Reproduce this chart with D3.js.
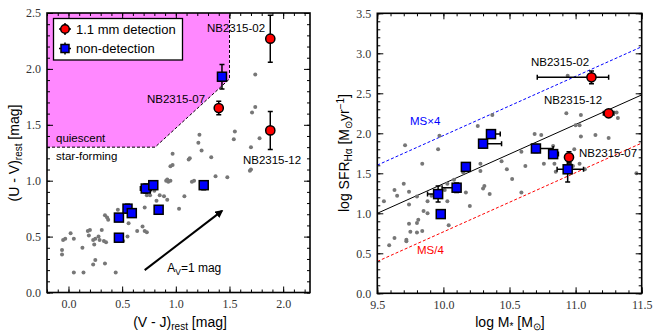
<!DOCTYPE html>
<html><head><meta charset="utf-8">
<script src="https://cdn.jsdelivr.net/npm/d3@7"></script>
<style>body{margin:0;background:#fff}</style>
</head><body>
<script>
// ---- left panel data: UVJ diagram
const grayVJ = [-0.06,-0.06,-0.05,-0.03,0.02,0.05,0.05,0.13,0.14,0.18,0.19,0.20,0.23,0.24,0.25,0.28,0.29,0.23,0.25,0.31,0.33,0.35,0.34,0.34,0.36,0.37,0.44,0.46,0.51,0.55,0.56,0.60,0.64,0.69,0.71,0.73,0.71,0.73,0.76,0.76,0.80,0.82,0.85,0.89,0.92,0.93,0.95,0.97,1.03,1.08,1.15,1.17,1.37,1.48,1.70,1.13,0.97,0.95,1.12,1.22,1.21,1.24,1.33,1.55,1.54,1.78,1.70,1.69,1.74,1.71,1.74,0.91,0.92];
const grayUV = [0.38,0.34,0.47,0.48,0.53,0.48,0.18,0.40,0.18,0.55,0.51,0.56,0.47,0.43,0.48,0.50,0.47,0.25,0.29,0.56,0.46,0.45,0.26,0.69,0.67,0.65,0.18,0.74,0.46,0.50,0.62,0.71,0.55,0.59,0.55,0.54,0.76,0.87,0.87,0.91,0.91,0.82,0.87,0.86,0.83,0.99,1.00,1.14,0.75,0.86,0.99,1.00,1.04,1.03,1.10,1.20,1.24,1.13,1.19,1.41,1.34,1.27,1.21,1.44,1.37,1.38,1.30,1.09,1.66,1.61,1.95,1.00,1.01];

const detVJ = [1.88, 1.40, 1.88];
const detUV = [2.27, 1.65, 1.45];
const detVJerr = [0.02, 0.02, 0.02];
const detUVerr = [0.21, 0.06, 0.17];
const detNames = ["NB2315-02", "NB2315-07", "NB2315-12"];

const ndVJ = [0.47, 0.55, 0.59, 0.84, 0.47, 0.72, 0.79, 1.26, 1.43];
const ndUV = [0.67, 0.75, 0.71, 0.74, 0.49, 0.93, 0.96, 0.96, 1.93];
const ndVJerr = [0.02, 0.03, 0.02, 0.02, 0.02, 0.05, 0.02, 0.03, 0.03];
const ndUVerr = [0.03, 0.04, 0.03, 0.02, 0.03, 0.04, 0.03, 0.04, 0.11];

const quiesVJ = [-0.2, 0.807, 1.5, 1.5];
const quiesUV = [1.3, 1.3, 1.91, 2.5];
const avVJ = [0.71, 1.43];
const avUV = [0.20, 0.73];

// ---- right panel data: SFR - mass
const grayM = [9.71,9.84,9.96,9.97,10.26,10.37,10.69,10.74,10.94,10.93,11.04,11.00,11.03,11.04,11.15,11.25,11.31,11.32,10.59,10.44,10.83,9.55,9.59,9.63,9.63,9.65,9.70,9.72,9.72,9.74,9.74,9.74,9.75,9.80,9.80,9.81,9.80,9.84,9.85,9.88,9.88,9.91,10.01,10.03,10.03,10.04,10.08,10.15,10.17,10.20,10.28,10.28,10.30,10.31,10.35,10.48,10.52,10.59,10.62,10.76,10.84,10.85,11.03,11.07,11.46,10.96,10.98,10.99];
const graySFR = [1.85,1.62,1.80,1.97,2.09,2.23,1.99,1.98,2.72,2.25,2.23,2.10,2.10,1.96,1.98,1.94,2.26,2.19,1.77,1.65,1.84,1.15,0.60,1.29,0.69,1.22,1.37,0.65,0.67,1.27,1.11,0.87,0.77,1.21,0.76,0.92,0.88,0.78,1.03,1.00,1.15,1.22,1.29,1.37,1.15,0.85,1.42,1.51,1.26,1.09,1.62,1.53,1.31,1.34,1.24,1.55,1.43,1.26,1.59,1.62,1.62,1.52,1.62,1.55,1.50,1.62,1.59,1.80];

const detM = [11.12, 11.25, 10.95];
const detSFR = [2.70, 2.25, 1.70];
const detMlo = [0.41, 0.04, 0.02];
const detMhi = [0.13, 0.04, 0.02];
const detSFRerr = [0.08, 0.04, 0.07];
const detNamesR = ["NB2315-02", "NB2315-12", "NB2315-07"];

const ndM = [10.17, 9.96, 10.10, 9.98, 10.30, 10.36, 10.70, 10.83, 10.94];
const ndSFR = [1.58, 1.24, 1.32, 0.99, 1.87, 1.99, 1.81, 1.74, 1.55];
const ndMlo = [0.02, 0.08, 0.11, 0.02, 0.02, 0.03, 0.02, 0.02, 0.08];
const ndMhi = [0.02, 0.03, 0.02, 0.02, 0.14, 0.07, 0.13, 0.04, 0.12];
const ndSFRerr = [0.04, 0.10, 0.06, 0.05, 0.05, 0.05, 0.05, 0.05, 0.16];

const msM = [9.5, 11.5];
const msSFR = [1.0, 2.48];
const msOffset = Math.log10(4);

const svg = d3.select("body").append("svg")
  .attr("width", 662).attr("height", 331)
  .style("font-family", "Liberation Sans, Arial, sans-serif");

const fmt = d3.format(".1f");
const stepTicks = (a, b, s) => d3.range(Math.round((b - a) / s) + 1).map(i => +(a + i * s).toFixed(2));

function frame(id, x, y, xMajor, xMinor, yMajor, yMinor) {
  const [x0, x1] = x.range(), [y0, y1] = y.range();
  const g = svg.append("g");
  const serif = sel => sel.selectAll("text")
    .style("font-family", "Liberation Serif, Times New Roman, serif")
    .style("font-size", "12px").attr("fill", "#333");
  const noDomain = sel => sel.select(".domain").remove();
  g.append("g").attr("transform", `translate(0,${y0})`)
    .call(d3.axisBottom(x).tickValues(xMajor).tickSize(-6).tickPadding(7).tickFormat(fmt))
    .call(noDomain).call(serif);
  g.append("g").attr("transform", `translate(0,${y0})`)
    .call(d3.axisBottom(x).tickValues(xMinor).tickSize(-3).tickFormat("")).call(noDomain);
  g.append("g").attr("transform", `translate(0,${y1})`)
    .call(d3.axisTop(x).tickValues(xMajor).tickSize(-6).tickFormat("")).call(noDomain);
  g.append("g").attr("transform", `translate(0,${y1})`)
    .call(d3.axisTop(x).tickValues(xMinor).tickSize(-3).tickFormat("")).call(noDomain);
  g.append("g").attr("transform", `translate(${x0},0)`)
    .call(d3.axisLeft(y).tickValues(yMajor).tickSize(-6).tickPadding(6).tickFormat(fmt))
    .call(noDomain).call(serif);
  g.append("g").attr("transform", `translate(${x0},0)`)
    .call(d3.axisLeft(y).tickValues(yMinor).tickSize(-3).tickFormat("")).call(noDomain);
  g.append("g").attr("transform", `translate(${x1},0)`)
    .call(d3.axisRight(y).tickValues(yMajor).tickSize(-6).tickFormat("")).call(noDomain);
  g.append("g").attr("transform", `translate(${x1},0)`)
    .call(d3.axisRight(y).tickValues(yMinor).tickSize(-3).tickFormat("")).call(noDomain);
  g.selectAll(".tick line").attr("stroke", "#000").attr("stroke-width", 1);
  g.append("rect").attr("x", x0).attr("y", y1).attr("width", x1 - x0).attr("height", y0 - y1)
    .attr("fill", "none").attr("stroke", "#000").attr("stroke-width", 1.6);
  svg.append("clipPath").attr("id", id).append("rect")
    .attr("x", x0).attr("y", y1).attr("width", x1 - x0).attr("height", y0 - y1);
}

function errBars(g, x, y, xs, ys, xlo, xhi, ylo, yhi) {
  xs.forEach((v, i) => {
    const cx = x(v), cy = y(ys[i]);
    const ya = y(ys[i] - ylo[i]), yb = y(ys[i] + yhi[i]);
    const xa = x(v - xlo[i]), xb = x(v + xhi[i]);
    const p = d3.path();
    p.moveTo(cx, ya); p.lineTo(cx, yb);
    p.moveTo(cx - 2.5, ya); p.lineTo(cx + 2.5, ya);
    p.moveTo(cx - 2.5, yb); p.lineTo(cx + 2.5, yb);
    p.moveTo(xa, cy); p.lineTo(xb, cy);
    p.moveTo(xa, cy - 2.5); p.lineTo(xa, cy + 2.5);
    p.moveTo(xb, cy - 2.5); p.lineTo(xb, cy + 2.5);
    g.append("path").attr("d", p.toString()).attr("stroke", "#000")
      .attr("stroke-width", 1.5).attr("fill", "none");
  });
}

function squares(g, x, y, xs, ys) {
  g.selectAll(null).data(xs).join("rect")
    .attr("x", (d) => x(d) - 4.5).attr("y", (d, i) => y(ys[i]) - 4.5)
    .attr("width", 9).attr("height", 9)
    .attr("fill", "#0000ff").attr("stroke", "#000").attr("stroke-width", 1.5);
}
function circles(g, x, y, xs, ys) {
  g.selectAll(null).data(xs).join("circle")
    .attr("cx", d => x(d)).attr("cy", (d, i) => y(ys[i])).attr("r", 4.6)
    .attr("fill", "#ff0000").attr("stroke", "#000").attr("stroke-width", 1.5);
}

// ================= LEFT PANEL =================
const xL = d3.scaleLinear().domain([-0.2, 2.25]).range([47, 310]);
const yL = d3.scaleLinear().domain([0, 2.5]).range([292.5, 13]);

const gL = svg.append("g").attr("clip-path", "url(#clipL)");
const quies = quiesVJ.map((v, i) => [v, quiesUV[i]]);
gL.append("path")
  .attr("d", d3.line().x(d => xL(d[0])).y(d => yL(d[1]))([[quiesVJ[0], 2.5], ...quies]) + "Z")
  .attr("fill", "#ff88ff");
gL.append("path")
  .attr("d", d3.line().x(d => xL(d[0])).y(d => yL(d[1]))(quies))
  .attr("fill", "none").attr("stroke", "#000").attr("stroke-width", 1).attr("stroke-dasharray", "3,2");

gL.selectAll(null).data(grayVJ).join("circle")
  .attr("cx", d => xL(d)).attr("cy", (d, i) => yL(grayUV[i])).attr("r", 2)
  .attr("fill", "#777");

// extinction arrow
svg.append("defs").append("marker").attr("id", "arrowhead")
  .attr("viewBox", "0 0 10 10").attr("refX", 8).attr("refY", 5)
  .attr("markerWidth", 4).attr("markerHeight", 4).attr("orient", "auto")
  .append("path").attr("d", "M0,0L10,5L0,10z").attr("fill", "#000");
gL.append("line")
  .attr("x1", xL(avVJ[0])).attr("y1", yL(avUV[0]))
  .attr("x2", xL(avVJ[1])).attr("y2", yL(avUV[1]))
  .attr("stroke", "#000").attr("stroke-width", 2).attr("marker-end", "url(#arrowhead)");
const avT = gL.append("text").attr("x", xL(0.92)).attr("y", yL(0.18))
  .attr("font-size", 12).text("A");
avT.append("tspan").attr("font-size", 8.5).attr("dy", 3).text("V");
avT.append("tspan").attr("dy", -3).text("=1 mag");

errBars(gL, xL, yL, ndVJ, ndUV, ndVJerr, ndVJerr, ndUVerr, ndUVerr);
errBars(gL, xL, yL, detVJ, detUV, detVJerr, detVJerr, detUVerr, detUVerr);
squares(gL, xL, yL, ndVJ, ndUV);
circles(gL, xL, yL, detVJ, detUV);

gL.append("text").attr("x", 56).attr("y", yL(1.3) - 5).attr("font-size", 11.5).text("quiescent");
gL.append("text").attr("x", 56).attr("y", yL(1.3) + 13).attr("font-size", 11.5).text("star-forming");

const labL = [[236, 32], [176, 103], [272, 164]];
detNames.forEach((n, i) => gL.append("text").attr("x", labL[i][0]).attr("y", labL[i][1])
  .attr("text-anchor", "middle").attr("font-size", 11.5).text(n));

// legend
const lg = svg.append("g");
lg.append("rect").attr("x", 53.5).attr("y", 18.5).attr("width", 129).attr("height", 41.5)
  .attr("fill", "#fff").attr("stroke", "#000").attr("stroke-width", 1.3);
[["1.1 mm detection", 29, "c"], ["non-detection", 48.5, "s"]].forEach(([t, yy, k]) => {
  const p = d3.path();
  p.moveTo(59, yy); p.lineTo(71, yy); p.moveTo(65, yy - 6); p.lineTo(65, yy + 6);
  lg.append("path").attr("d", p.toString()).attr("stroke", "#000").attr("stroke-width", 1.5);
  if (k === "c") lg.append("circle").attr("cx", 65).attr("cy", yy).attr("r", 4.3)
    .attr("fill", "#ff0000").attr("stroke", "#000").attr("stroke-width", 1.5);
  else lg.append("rect").attr("x", 61).attr("y", yy - 4).attr("width", 8).attr("height", 8)
    .attr("fill", "#0000ff").attr("stroke", "#000").attr("stroke-width", 1.5);
  lg.append("text").attr("x", 76).attr("y", yy + 4.5).attr("font-size", 13).text(t);
});

frame("clipL", xL, yL, stepTicks(0, 2, 0.5), stepTicks(-0.2, 2.2, 0.1),
  stepTicks(0, 2.5, 0.5), stepTicks(0, 2.5, 0.1));

const xlabL = svg.append("text").attr("x", 180).attr("y", 327).attr("text-anchor", "middle").attr("font-size", 14).text("(V - J)");
xlabL.append("tspan").attr("font-size", 10).attr("dy", 3).text("rest");
xlabL.append("tspan").attr("dy", -3).text(" [mag]");
const ylabL = svg.append("text").attr("transform", "translate(19,153) rotate(-90)")
  .attr("text-anchor", "middle").attr("font-size", 14).text("(U - V)");
ylabL.append("tspan").attr("font-size", 10).attr("dy", 3).text("rest");
ylabL.append("tspan").attr("dy", -3).text(" [mag]");

// ================= RIGHT PANEL =================
const xR = d3.scaleLinear().domain([9.5, 11.5]).range([377.3, 641.7]);
const yR = d3.scaleLinear().domain([0, 3.5]).range([293.3, 13.3]);
const gR = svg.append("g").attr("clip-path", "url(#clipR)");

const msLine = off => d3.line().x(d => xR(d)).y((d, i) => yR(msSFR[i] + off))(msM);
gR.append("path").attr("d", msLine(msOffset)).attr("fill", "none")
  .attr("stroke", "#0000ff").attr("stroke-width", 1).attr("stroke-dasharray", "3,2");
gR.append("path").attr("d", msLine(-msOffset)).attr("fill", "none")
  .attr("stroke", "#ff0000").attr("stroke-width", 1).attr("stroke-dasharray", "3,2");
gR.append("path").attr("d", msLine(0)).attr("fill", "none")
  .attr("stroke", "#000").attr("stroke-width", 1);

gR.selectAll(null).data(grayM).join("circle")
  .attr("cx", d => xR(d)).attr("cy", (d, i) => yR(graySFR[i])).attr("r", 2)
  .attr("fill", "#777");

errBars(gR, xR, yR, ndM, ndSFR, ndMlo, ndMhi, ndSFRerr, ndSFRerr);
errBars(gR, xR, yR, detM, detSFR, detMlo, detMhi, detSFRerr, detSFRerr);
squares(gR, xR, yR, ndM, ndSFR);
circles(gR, xR, yR, detM, detSFR);

const labR = [[560, 66], [573, 104], [608, 157]];
detNamesR.forEach((n, i) => gR.append("text").attr("x", labR[i][0]).attr("y", labR[i][1])
  .attr("text-anchor", "middle").attr("font-size", 11.5).text(n));
gR.append("text").attr("x", 410).attr("y", 125).attr("font-size", 11.5).attr("fill", "#0000ff").text("MS×4");
gR.append("text").attr("x", 417).attr("y", 254).attr("font-size", 11.5).attr("fill", "#ff0000").text("MS/4");

frame("clipR", xR, yR, stepTicks(9.5, 11.5, 0.5), stepTicks(9.5, 11.5, 0.1),
  stepTicks(0, 3.5, 0.5), stepTicks(0, 3.5, 0.1));

const xlabR = svg.append("text").attr("x", 510).attr("y", 327).attr("text-anchor", "middle").attr("font-size", 14).text("log M");
xlabR.append("tspan").attr("font-size", 10).attr("dy", 3).text("*");
xlabR.append("tspan").attr("dy", -3).text(" [M");
xlabR.append("tspan").attr("font-size", 10).attr("dy", 3).text("⊙");
xlabR.append("tspan").attr("dy", -3).text("]");
const ylabR = svg.append("text").attr("transform", "translate(349,153) rotate(-90)")
  .attr("text-anchor", "middle").attr("font-size", 14).text("log SFR");
ylabR.append("tspan").attr("font-size", 10).attr("dy", 3).text("Hα");
ylabR.append("tspan").attr("dy", -3).text(" [M");
ylabR.append("tspan").attr("font-size", 10).attr("dy", 3).text("⊙");
ylabR.append("tspan").attr("dy", -3).text("yr");
ylabR.append("tspan").attr("font-size", 10).attr("dy", -5).text("−1");
ylabR.append("tspan").attr("dy", 5).text("]");
</script>
</body></html>
